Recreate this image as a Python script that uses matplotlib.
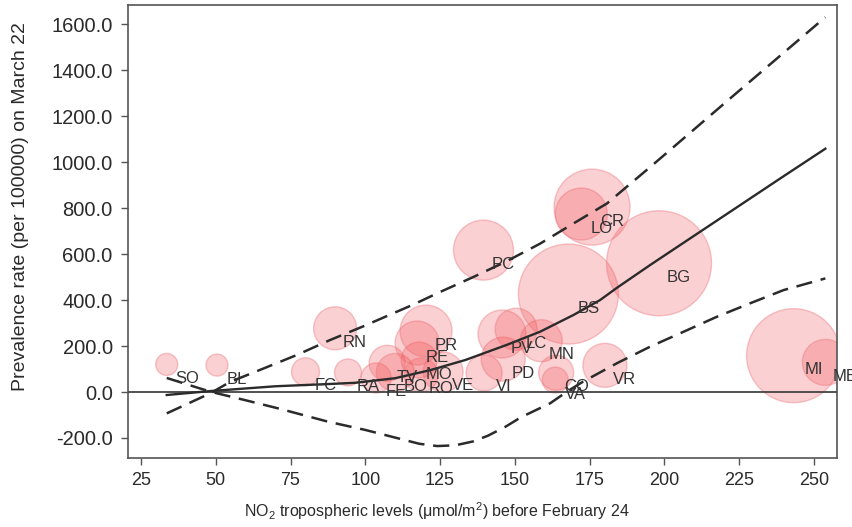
import matplotlib
matplotlib.use('Agg')
import matplotlib.pyplot as plt

plt.rcParams['font.family'] = ['Liberation Sans', 'DejaVu Sans']
plt.rcParams['mathtext.fontset'] = 'custom'
plt.rcParams['mathtext.rm'] = 'Liberation Sans'
plt.rcParams['mathtext.it'] = 'Liberation Sans'

# ---- data ----
provinces = ['SO', 'BL', 'FC', 'RN', 'RA', 'FE', 'TV', 'BO', 'MO', 'RE', 'PR', 'RO',
             'VE', 'VI', 'PD', 'PV', 'LC', 'MN', 'CO', 'VA', 'PC', 'BS', 'LO', 'CR',
             'BG', 'VR', 'MI', 'MB']
no2 = [33.6, 50.4, 80.0, 89.9, 94.2, 103.6, 107.3, 110.0, 118.0, 117.3, 120.3, 118.6,
       126.0, 139.7, 146.1, 145.7, 150.4, 158.8, 163.8, 163.5, 139.5, 167.9, 172.2, 175.8,
       198.2, 180.1, 243.2, 253.8]
prevalence = [120, 117, 88, 277, 85, 61, 125, 85, 139, 213, 265, 74,
              87, 83, 143, 252, 273, 223, 84, 52, 617, 426, 774, 804,
              560, 116, 158, 129]
# relative bubble weight (proportional to bubble area)
weight = [121, 121, 196, 462, 182, 225, 324, 361, 324, 484, 676, 289,
          400, 324, 484, 576, 441, 441, 306, 169, 900, 2500, 676, 1444,
          2756, 484, 2209, 529]

fit_x = [33.6, 48.1, 70, 88.2, 96.6, 110, 121.7, 133.4, 147.3, 158.4, 169.6, 178.5,
         184.1, 195.2, 206.4, 217.5, 228.7, 239.8, 253.8]
fit_y = [-13, 4, 25, 35, 40, 60, 95, 139, 205, 262, 335, 400,
         453, 552, 649, 745, 842, 938, 1058]

upper_x = [33.6, 48.1, 54.8, 65.9, 77.1, 88.2, 99.2, 116.0, 125.0, 136.1, 147.3, 158.4,
           169.6, 180.8, 196.3, 222.0, 253.8]
upper_y = [-93, -6, 44, 102, 161, 226, 285, 380, 435, 500, 569, 645,
           733, 820, 990, 1277, 1630]

lower_x = [33.6, 48, 60, 70.8, 87.5, 100, 110.5, 118, 124, 130, 136, 141, 147, 152,
           161.8, 167.8, 172.8, 184.1, 195.2, 206.4, 217.5, 228.7, 239.8, 253.8]
lower_y = [61, 2, -36, -71, -129, -165, -200, -225, -235, -232, -215, -190, -150, -110,
           -49, 5, 45, 125, 197, 262, 327, 386, 443, 494]

xticks = [25, 50, 75, 100, 125, 150, 175, 200, 225, 250]
yticks = [-200, 0, 200, 400, 600, 800, 1000, 1200, 1400, 1600]

# ---- figure ----
fig = plt.figure(figsize=(8.53, 5.27), dpi=100)
ax = fig.add_axes([128 / 853, 1 - 458 / 527, (837 - 128) / 853, (458 - 5) / 527])
ax.set_xlim(20.65, 257.7)
ax.set_ylim(-287, 1683)

sizes = [w * (1.44 ** 2) for w in weight]
ax.scatter(no2, prevalence, s=sizes, facecolor=(0.95, 0.3, 0.33, 0.26),
           edgecolor=(0.92, 0.45, 0.48, 0.40), linewidth=1.0, zorder=2)

for name, x, y in zip(provinces, no2, prevalence):
    ax.annotate(name, (x, y), xytext=(20, -14), textcoords='offset pixels',
                ha='center', va='center', fontsize=12, color='#333333',
                zorder=4, annotation_clip=False)

ax.axhline(0, color='#444444', lw=1.3, zorder=3)
ax.plot(fit_x, fit_y, color='#2b2b2b', lw=1.7, zorder=3)
ax.plot(upper_x, upper_y, color='#2b2b2b', lw=1.8, ls=(0, (6.5, 3.5)), zorder=3)
ax.plot(lower_x, lower_y, color='#2b2b2b', lw=1.8, ls=(0, (6.5, 3.5)), zorder=3)

ax.set_xticks(xticks)
ax.set_yticks(yticks)
ax.set_yticklabels([f'{v:.1f}' for v in yticks])
ax.tick_params(axis='both', direction='out', length=5, width=1.0, color='#555555',
               labelcolor='#2a2a2a')
ax.tick_params(axis='x', labelsize=13, pad=5)
ax.tick_params(axis='y', labelsize=14.5, pad=6)
for sp in ax.spines.values():
    sp.set_color('#555555')
    sp.set_linewidth(1.2)

ax.set_xlabel(r'NO$_2$ tropospheric levels ($\mathrm{\mu}$mol/m$^2$) before February 24',
              fontsize=11.5, color='#2a2a2a')
ax.xaxis.set_label_coords((437 - 128) / 709, -(500 - 458) / 453)
ax.set_ylabel('Prevalence rate (per 100000) on March 22', fontsize=14, color='#2a2a2a')
ax.yaxis.set_label_coords(-(128 - 29) / 709, (458 - 207) / 453)

fig.savefig('out.png', dpi=100)
